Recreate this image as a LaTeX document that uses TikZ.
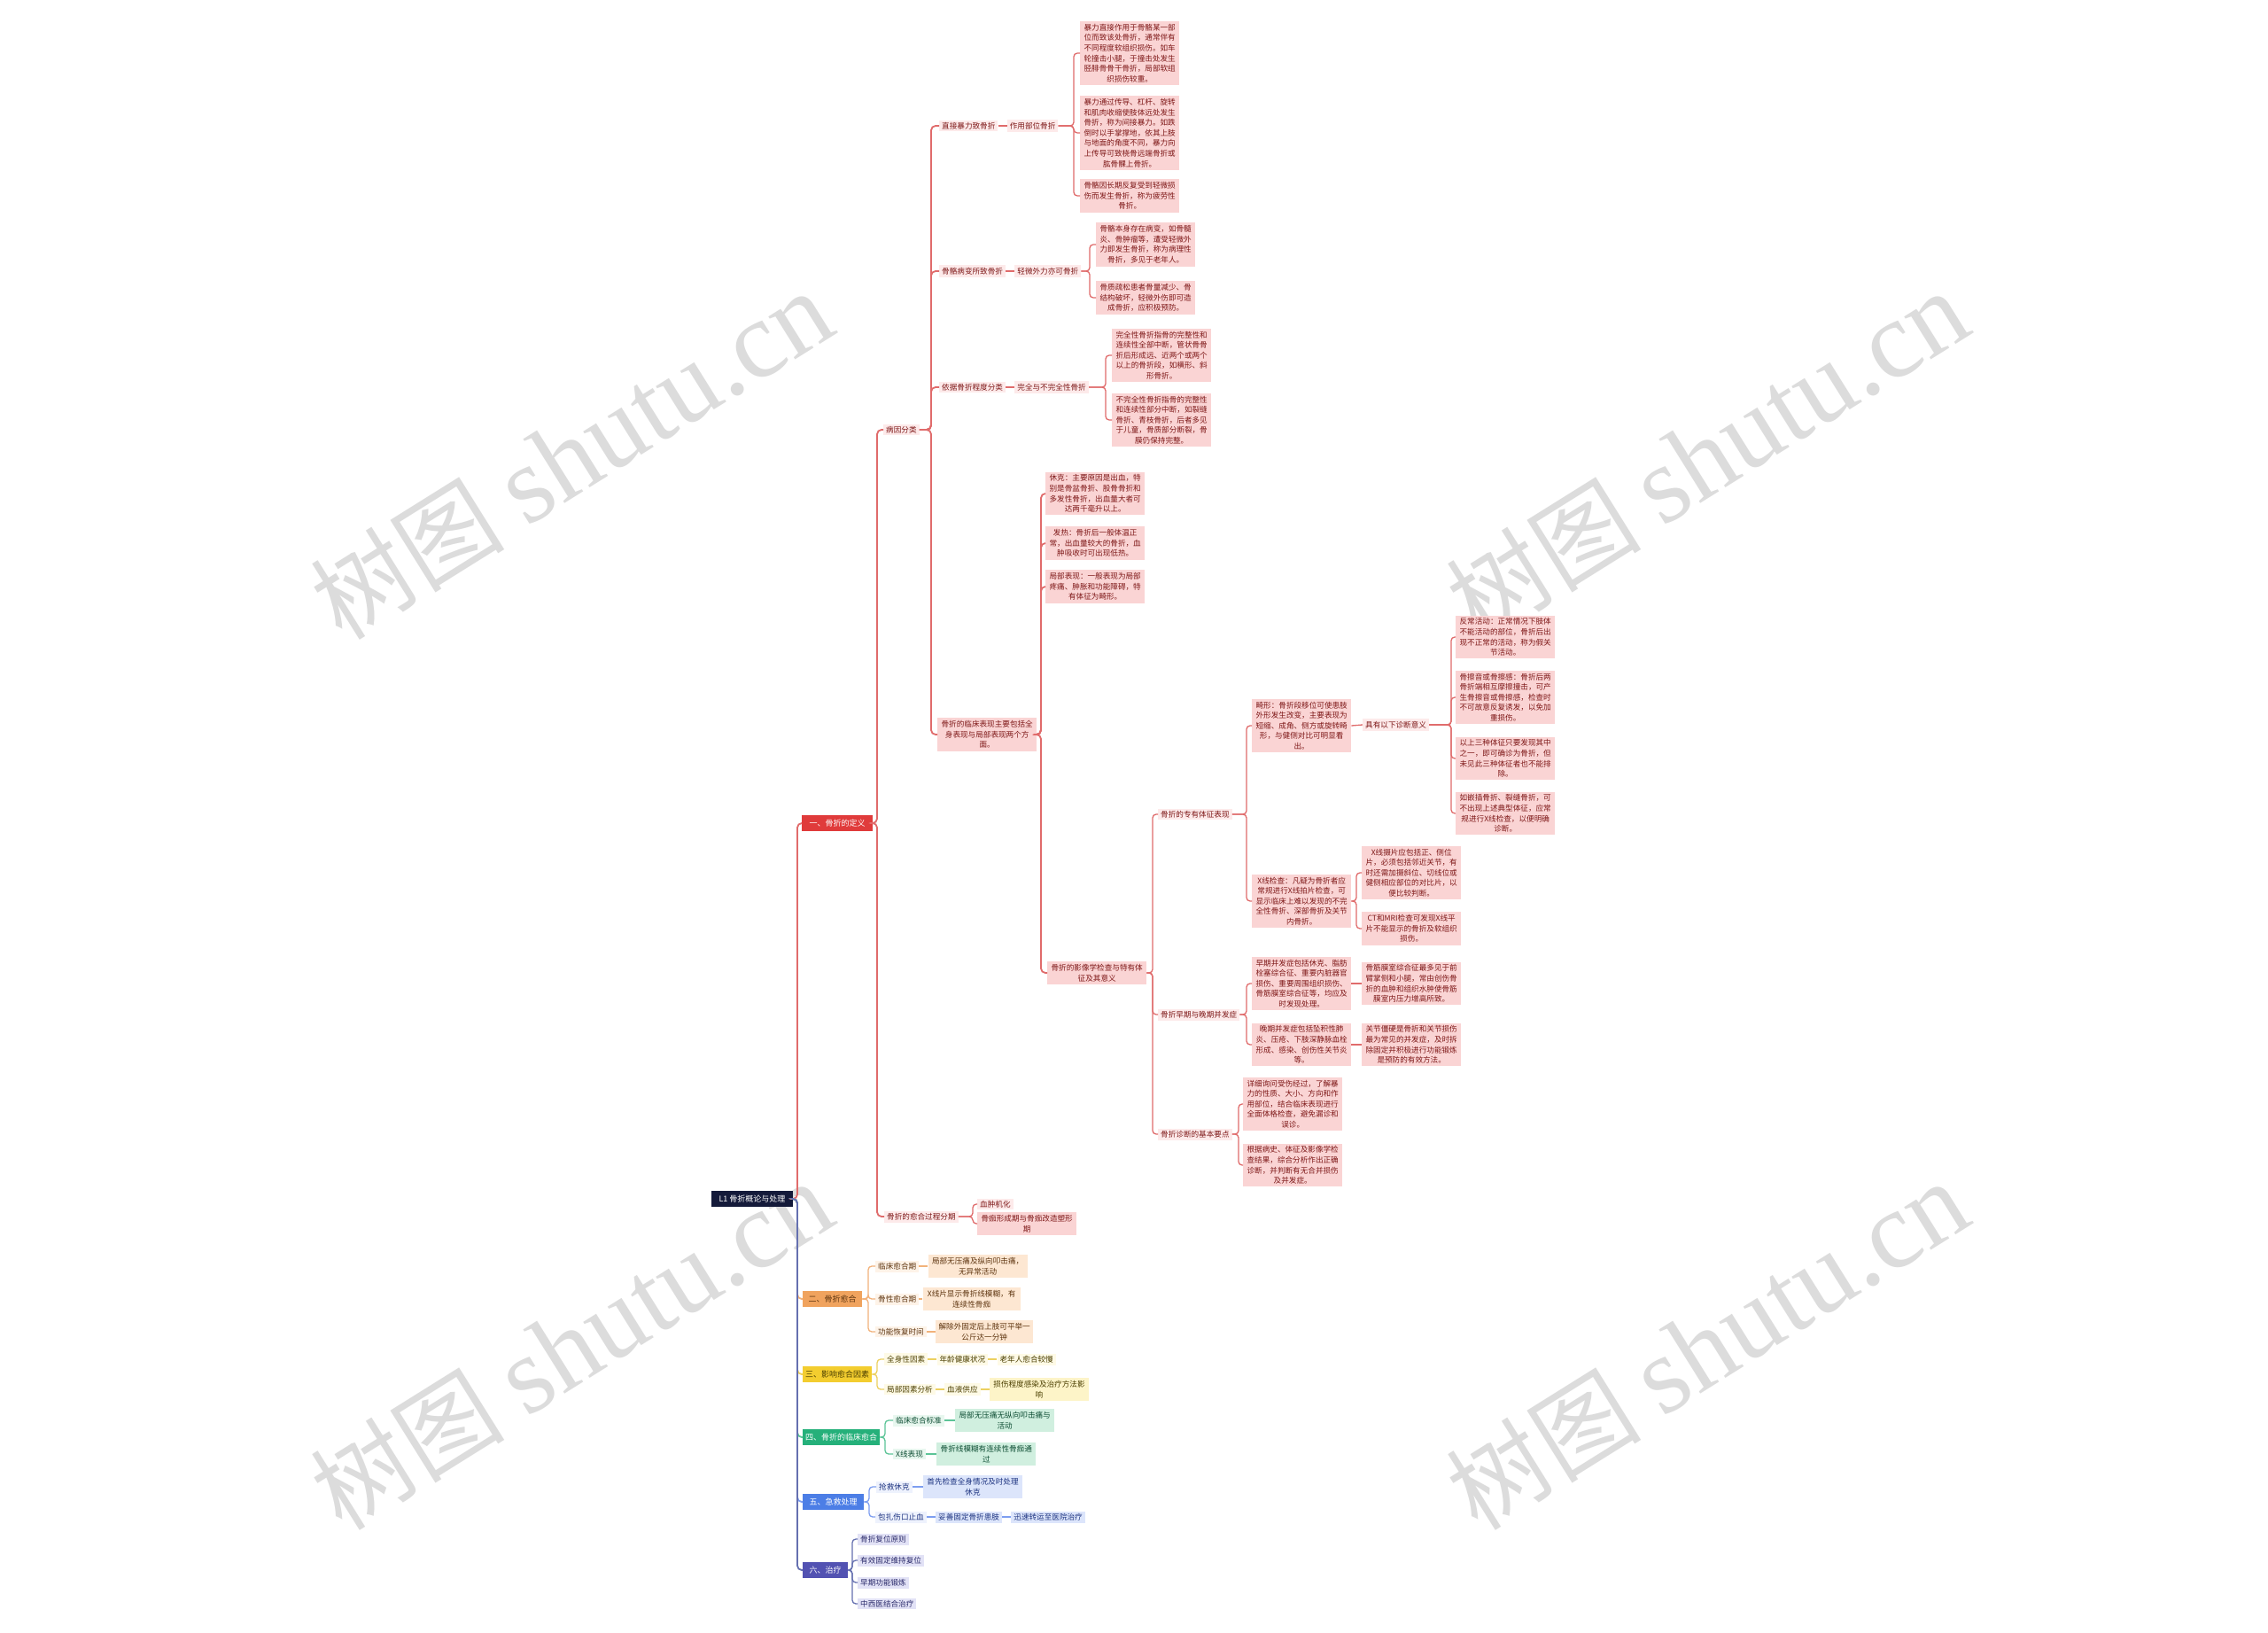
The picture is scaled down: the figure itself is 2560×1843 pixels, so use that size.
\documentclass[tikz,border=0pt]{standalone}
\usepackage{fontspec}
\setmainfont{Noto Sans CJK SC}
\newfontfamily\wmfont{Liberation Serif}
\XeTeXlinebreaklocale "zh"
\XeTeXlinebreakskip = 0pt plus 0.2pt
\usetikzlibrary{positioning}
\definecolor{rootc}{HTML}{141A3A}
\definecolor{rmain}{HTML}{E03B3B}
\definecolor{rline}{HTML}{E06B6B}
\definecolor{rlight}{HTML}{FAD4D4}
\definecolor{rfaint}{HTML}{FDEAEA}
\definecolor{rtext}{HTML}{7E1818}
\definecolor{omain}{HTML}{F0A35E}
\definecolor{oline}{HTML}{F2B27A}
\definecolor{olight}{HTML}{FDE7D2}
\definecolor{ofaint}{HTML}{FEF3E8}
\definecolor{otext}{HTML}{5E3510}
\definecolor{ymain}{HTML}{F3CD2F}
\definecolor{yline}{HTML}{ECD060}
\definecolor{ylight}{HTML}{FDF4C8}
\definecolor{yfaint}{HTML}{FEFAE6}
\definecolor{ytext}{HTML}{4A3E00}
\definecolor{gmain}{HTML}{25B07A}
\definecolor{gline}{HTML}{5CC497}
\definecolor{glight}{HTML}{D0EFDF}
\definecolor{gfaint}{HTML}{E8F7EF}
\definecolor{gtext}{HTML}{0D4D33}
\definecolor{bmain}{HTML}{4C7EE6}
\definecolor{bline}{HTML}{7D9EF0}
\definecolor{blight}{HTML}{DCE5FB}
\definecolor{bfaint}{HTML}{EEF2FD}
\definecolor{btext}{HTML}{1D3380}
\definecolor{imain}{HTML}{5252B2}
\definecolor{iline}{HTML}{6570B0}
\definecolor{ilight}{HTML}{E2E2F6}
\definecolor{itext}{HTML}{2A2A6A}
\definecolor{wm}{HTML}{DCDCDC}
\newcommand\lnk[4]{\draw[#1] (#2.east) -- (#2.east -| #4,0) |- (#3.west);}
\newcommand\dsh[3]{\draw[#1] (#2.east) -- (#3.west);}
\tikzset{
  every node/.style={font=\fontsize{8.6}{11.6}\selectfont, inner sep=0pt},
  lone/.style={rectangle, minimum height=18pt, inner xsep=3pt, anchor=west, font=\fontsize{9}{11}\selectfont},
  box/.style={rectangle, text width=106pt, inner xsep=3pt, inner ysep=3pt, align=flush center, anchor=west},
  tag/.style={rectangle, inner xsep=3pt, inner ysep=2.5pt, anchor=west},
  rbox/.style={box, fill=rlight, text=rtext}, rtag/.style={tag, fill=rfaint, text=rtext},
  obox/.style={box, fill=olight, text=otext}, otag/.style={tag, fill=ofaint, text=otext},
  ybox/.style={box, fill=ylight, text=ytext}, ytag/.style={tag, fill=yfaint, text=ytext},
  gbox/.style={box, fill=glight, text=gtext}, gtag/.style={tag, fill=gfaint, text=gtext},
  bbox/.style={box, fill=blight, text=btext}, btag/.style={tag, fill=bfaint, text=btext},
  itag/.style={tag, fill=ilight, text=itext},
  lk/.style={line width=1.3pt, rounded corners=4pt},
  mk/.style={line width=1.8pt, rounded corners=5pt},
  wmark/.style={rotate=32, text=wm, font=\fontsize{110}{110}\selectfont},
}
\begin{document}
\begin{tikzpicture}[x=1pt,y=-1pt]
\useasboundingbox (0,0) rectangle (2560,1843);
\fill[white] (0,0) rectangle (2560,1843);
% watermarks
\node[wmark] (wm1) at (645,514) {树图 {\wmfont\fontsize{124}{124}\selectfont shutu.cn}};
\node[wmark] (wm2) at (1927,514) {树图 {\wmfont\fontsize{124}{124}\selectfont shutu.cn}};
\node[wmark] (wm3) at (645,1519) {树图 {\wmfont\fontsize{124}{124}\selectfont shutu.cn}};
\node[wmark] (wm4) at (1927,1519) {树图 {\wmfont\fontsize{124}{124}\selectfont shutu.cn}};
% root and level 1
\node[lone, fill=rootc, text=white, minimum width=92pt, anchor=center] (root) at (849,1353) {L1 骨折概论与处理};
\node[lone, fill=rmain, text=white, minimum width=80pt] (red) at (905,929) {一、骨折的定义};
\node[lone, fill=omain, text=otext, minimum width=67pt] (ora) at (906,1466) {二、骨折愈合};
\node[lone, fill=ymain, text=ytext, minimum width=78pt] (yel) at (906,1551) {三、影响愈合因素};
\node[lone, fill=gmain, text=white, minimum width=87pt] (grn) at (906,1622) {四、骨折的临床愈合};
\node[lone, fill=bmain, text=white, minimum width=69pt] (blu) at (906,1695) {五、急救处理};
\node[lone, fill=imain, text=white, minimum width=51pt] (ind) at (906,1772) {六、治疗};
% red branch
\node[rtag] (R1) at (997,485) {病因分类};
\node[rtag] (R2) at (998,1373) {骨折的愈合过程分期};
\node[rtag] (R2a) at (1103,1359) {血肿机化};
\node[rbox] (R2b) at (1103,1381) {骨痂形成期与骨痂改造塑形期};
\node[rtag] (R1a) at (1060,142) {直接暴力致骨折};
\node[rtag, right=10pt of R1a] (R1a2) {作用部位骨折};
\node[rbox] (A1) at (1219,60) {暴力直接作用于骨骼某一部位而致该处骨折，通常伴有不同程度软组织损伤。如车轮撞击小腿，于撞击处发生胫腓骨骨干骨折，局部软组织损伤较重。};
\node[rbox] (A2) at (1219,150) {暴力通过传导、杠杆、旋转和肌肉收缩使肢体远处发生骨折，称为间接暴力。如跌倒时以手掌撑地，依其上肢与地面的角度不同，暴力向上传导可致桡骨远端骨折或肱骨髁上骨折。};
\node[rbox] (A3) at (1219,221) {骨骼因长期反复受到轻微损伤而发生骨折，称为疲劳性骨折。};
\node[rtag] (R1b) at (1060,306) {骨骼病变所致骨折};
\node[rtag, right=10pt of R1b] (R1b2) {轻微外力亦可骨折};
\node[rbox] (B1) at (1237,276) {骨骼本身存在病变，如骨髓炎、骨肿瘤等，遭受轻微外力即发生骨折，称为病理性骨折，多见于老年人。};
\node[rbox] (B2) at (1237,336) {骨质疏松患者骨量减少、骨结构破坏，轻微外伤即可造成骨折，应积极预防。};
\node[rtag] (R1c) at (1060,437) {依据骨折程度分类};
\node[rtag, right=10pt of R1c] (R1c2) {完全与不完全性骨折};
\node[rbox] (C1) at (1255,401) {完全性骨折指骨的完整性和连续性全部中断，管状骨骨折后形成远、近两个或两个以上的骨折段，如横形、斜形骨折。};
\node[rbox] (C2) at (1255,474) {不完全性骨折指骨的完整性和连续性部分中断，如裂缝骨折、青枝骨折，后者多见于儿童，骨质部分断裂，骨膜仍保持完整。};
\node[rbox] (R1d) at (1058,829) {骨折的临床表现主要包括全身表现与局部表现两个方面。};
\node[rbox] (D1) at (1180,557) {休克：主要原因是出血，特别是骨盆骨折、股骨骨折和多发性骨折，出血量大者可达两千毫升以上。};
\node[rbox] (D2) at (1180,613) {发热：骨折后一般体温正常，出血量较大的骨折，血肿吸收时可出现低热。};
\node[rbox] (D3) at (1180,662) {局部表现：一般表现为局部疼痛、肿胀和功能障碍，特有体征为畸形。};
\node[rbox] (D4) at (1182,1098) {骨折的影像学检查与特有体征及其意义};
\node[rtag] (E1) at (1307,919) {骨折的专有体征表现};
\node[rtag] (E2) at (1307,1145) {骨折早期与晚期并发症};
\node[rtag] (E3) at (1307,1280) {骨折诊断的基本要点};
\node[rbox] (E1a) at (1413,819) {畸形：骨折段移位可使患肢外形发生改变，主要表现为短缩、成角、侧方或旋转畸形，与健侧对比可明显看出。};
\node[rtag] (E1a1) at (1538,818) {具有以下诊断意义};
\node[rbox] (F1) at (1643,719) {反常活动：正常情况下肢体不能活动的部位，骨折后出现不正常的活动，称为假关节活动。};
\node[rbox] (F2) at (1643,787) {骨擦音或骨擦感：骨折后两骨折端相互摩擦撞击，可产生骨擦音或骨擦感，检查时不可故意反复诱发，以免加重损伤。};
\node[rbox] (F3) at (1643,856) {以上三种体征只要发现其中之一，即可确诊为骨折，但未见此三种体征者也不能排除。};
\node[rbox] (F4) at (1643,918) {如嵌插骨折、裂缝骨折，可不出现上述典型体征，应常规进行X线检查，以便明确诊断。};
\node[rbox] (E1b) at (1413,1017) {X线检查：凡疑为骨折者应常规进行X线拍片检查，可显示临床上难以发现的不完全性骨折、深部骨折及关节内骨折。};
\node[rbox] (G1x) at (1537,985) {X线摄片应包括正、侧位片，必须包括邻近关节，有时还需加摄斜位、切线位或健侧相应部位的对比片，以便比较判断。};
\node[rbox] (G2x) at (1537,1048) {CT和MRI检查可发现X线平片不能显示的骨折及软组织损伤。};
\node[rbox] (E2a) at (1413,1110) {早期并发症包括休克、脂肪栓塞综合征、重要内脏器官损伤、重要周围组织损伤、骨筋膜室综合征等，均应及时发现处理。};
\node[rbox] (E2a1) at (1537,1110) {骨筋膜室综合征最多见于前臂掌侧和小腿，常由创伤骨折的血肿和组织水肿使骨筋膜室内压力增高所致。};
\node[rbox] (E2b) at (1413,1179) {晚期并发症包括坠积性肺炎、压疮、下肢深静脉血栓形成、感染、创伤性关节炎等。};
\node[rbox] (E2b1) at (1537,1179) {关节僵硬是骨折和关节损伤最为常见的并发症，及时拆除固定并积极进行功能锻炼是预防的有效方法。};
\node[rbox] (E3a) at (1403,1246) {详细询问受伤经过，了解暴力的性质、大小、方向和作用部位，结合临床表现进行全面体格检查，避免漏诊和误诊。};
\node[rbox] (E3b) at (1403,1315) {根据病史、体征及影像学检查结果，综合分析作出正确诊断，并判断有无合并损伤及并发症。};
% orange branch
\node[otag] (O1) at (988,1429) {临床愈合期};
\node[obox, right=10pt of O1] (O1b) {局部无压痛及纵向叩击痛，无异常活动};
\node[otag] (O2) at (988,1466) {骨性愈合期};
\node[obox, right=4pt of O2, text width=104pt] (O2b) {X线片显示骨折线模糊，有连续性骨痂};
\node[otag] (O3) at (988,1503) {功能恢复时间};
\node[obox, right=10pt of O3, text width=104pt] (O3b) {解除外固定后上肢可平举一公斤达一分钟};
% yellow branch
\node[ytag] (Y1) at (998,1534) {全身性因素};
\node[ytag, right=10pt of Y1] (Y1b) {年龄健康状况};
\node[ytag, right=10pt of Y1b] (Y1c) {老年人愈合较慢};
\node[ytag] (Y2) at (998,1568) {局部因素分析};
\node[ytag, right=10pt of Y2] (Y2b) {血液供应};
\node[ybox, right=10pt of Y2b] (Y2c) {损伤程度感染及治疗方法影响};
% green branch
\node[gtag] (G1) at (1008,1603) {临床愈合标准};
\node[gbox, right=12pt of G1] (G1b) {局部无压痛无纵向叩击痛与活动};
\node[gtag] (G2) at (1008,1641) {X线表现};
\node[gbox, right=12pt of G2] (G2b) {骨折线模糊有连续性骨痂通过};
% blue branch
\node[btag] (B1x) at (989,1678) {抢救休克};
\node[bbox, right=12pt of B1x] (B1b) {首先检查全身情况及时处理休克};
\node[btag] (B2x) at (988,1712) {包扎伤口止血};
\node[btag, fill=blight, right=10pt of B2x] (B2b) {妥善固定骨折患肢};
\node[btag, fill=blight, right=10pt of B2b] (B2c) {迅速转运至医院治疗};
% indigo branch
\node[itag] (I1) at (968,1737) {骨折复位原则};
\node[itag] (I2) at (968,1761) {有效固定维持复位};
\node[itag] (I3) at (968,1786) {早期功能锻炼};
\node[itag] (I4) at (968,1810) {中西医结合治疗};
% ---- connectors
\lnk{mk, draw=rline}{root}{red}{900}
\lnk{mk, draw=oline}{root}{ora}{900}
\lnk{mk, draw=yline}{root}{yel}{900}
\lnk{mk, draw=gline}{root}{grn}{900}
\lnk{mk, draw=bline}{root}{blu}{900}
\lnk{mk, draw=iline}{root}{ind}{900}
\lnk{mk, draw=rline}{red}{R1}{990}
\lnk{mk, draw=rline}{red}{R2}{990}
\lnk{lk, draw=rline}{R2}{R2a}{1098}
\lnk{lk, draw=rline}{R2}{R2b}{1098}
\lnk{mk, draw=rline}{R1}{R1a}{1051}
\lnk{mk, draw=rline}{R1}{R1b}{1051}
\lnk{mk, draw=rline}{R1}{R1c}{1051}
\lnk{mk, draw=rline}{R1}{R1d}{1051}
\dsh{lk, draw=rline}{R1a}{R1a2}
\dsh{lk, draw=rline}{R1b}{R1b2}
\dsh{lk, draw=rline}{R1c}{R1c2}
\lnk{lk, draw=rline}{R1a2}{A1}{1212}
\lnk{lk, draw=rline}{R1a2}{A2}{1212}
\lnk{lk, draw=rline}{R1a2}{A3}{1212}
\lnk{lk, draw=rline}{R1b2}{B1}{1230}
\lnk{lk, draw=rline}{R1b2}{B2}{1230}
\lnk{lk, draw=rline}{R1c2}{C1}{1248}
\lnk{lk, draw=rline}{R1c2}{C2}{1248}
\lnk{mk, draw=rline}{R1d}{D1}{1175}
\lnk{mk, draw=rline}{R1d}{D2}{1175}
\lnk{mk, draw=rline}{R1d}{D3}{1175}
\lnk{mk, draw=rline}{R1d}{D4}{1175}
\lnk{lk, draw=rline}{D4}{E1}{1301}
\lnk{lk, draw=rline}{D4}{E2}{1301}
\lnk{lk, draw=rline}{D4}{E3}{1301}
\lnk{lk, draw=rline}{E1}{E1a}{1407}
\lnk{lk, draw=rline}{E1}{E1b}{1407}
\dsh{lk, draw=rline}{E1a}{E1a1}
\lnk{lk, draw=rline}{E1a1}{F1}{1638}
\lnk{lk, draw=rline}{E1a1}{F2}{1638}
\lnk{lk, draw=rline}{E1a1}{F3}{1638}
\lnk{lk, draw=rline}{E1a1}{F4}{1638}
\lnk{lk, draw=rline}{E1b}{G1x}{1531}
\lnk{lk, draw=rline}{E1b}{G2x}{1531}
\lnk{lk, draw=rline}{E2}{E2a}{1407}
\lnk{lk, draw=rline}{E2}{E2b}{1407}
\dsh{lk, draw=rline}{E2a}{E2a1}
\dsh{lk, draw=rline}{E2b}{E2b1}
\lnk{lk, draw=rline}{E3}{E3a}{1398}
\lnk{lk, draw=rline}{E3}{E3b}{1398}
\lnk{lk, draw=oline}{ora}{O1}{980}
\lnk{lk, draw=oline}{ora}{O2}{980}
\lnk{lk, draw=oline}{ora}{O3}{980}
\dsh{lk, draw=oline}{O1}{O1b}
\dsh{lk, draw=oline}{O2}{O2b}
\dsh{lk, draw=oline}{O3}{O3b}
\lnk{lk, draw=yline}{yel}{Y1}{990}
\lnk{lk, draw=yline}{yel}{Y2}{990}
\dsh{lk, draw=yline}{Y1}{Y1b}
\dsh{lk, draw=yline}{Y1b}{Y1c}
\dsh{lk, draw=yline}{Y2}{Y2b}
\dsh{lk, draw=yline}{Y2b}{Y2c}
\lnk{lk, draw=gline}{grn}{G1}{999}
\lnk{lk, draw=gline}{grn}{G2}{999}
\dsh{lk, draw=gline}{G1}{G1b}
\dsh{lk, draw=gline}{G2}{G2b}
\lnk{lk, draw=bline}{blu}{B1x}{981}
\lnk{lk, draw=bline}{blu}{B2x}{981}
\dsh{lk, draw=bline}{B1x}{B1b}
\dsh{lk, draw=bline}{B2x}{B2b}
\dsh{lk, draw=bline}{B2b}{B2c}
\lnk{lk, draw=iline}{ind}{I1}{962}
\lnk{lk, draw=iline}{ind}{I2}{962}
\lnk{lk, draw=iline}{ind}{I3}{962}
\lnk{lk, draw=iline}{ind}{I4}{962}
\end{tikzpicture}
\end{document}
